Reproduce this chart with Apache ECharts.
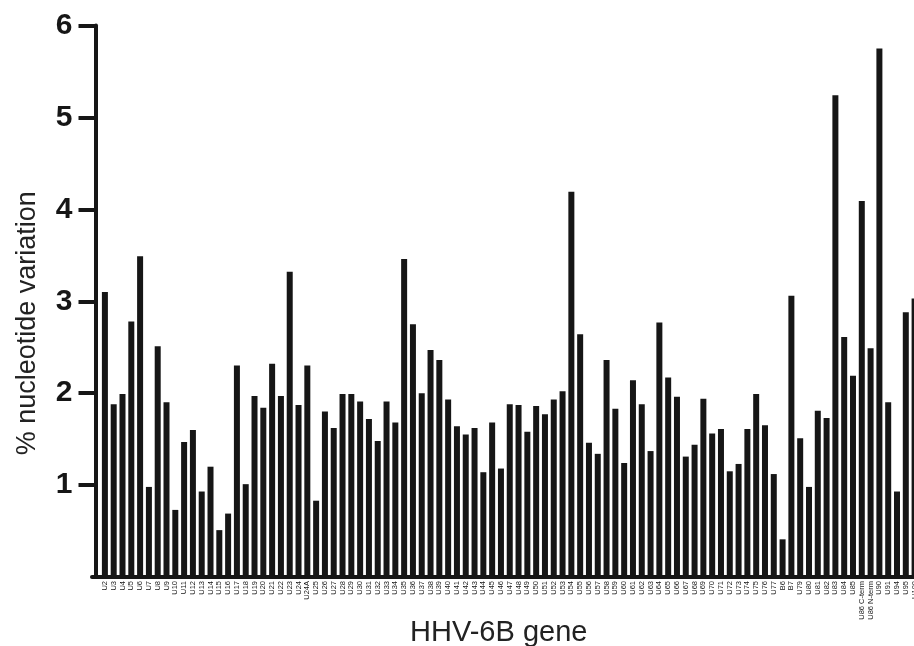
<!DOCTYPE html>
<html>
<head>
<meta charset="utf-8">
<script src="https://cdn.jsdelivr.net/npm/echarts@6/dist/echarts.min.js"></script>
<style>
  html, body { margin: 0; padding: 0; background: #fff; }
  #main { width: 914px; height: 646px; }
</style>
</head>
<body>
<div id="main"></div>
<script>
const chart = echarts.init(document.getElementById('main'));

// gene names along the x axis
const genes = [
  'U2', 'U3', 'U4', 'U5', 'U6', 'U7', 'U8', 'U9', 'U10', 'U11',
  'U12', 'U13', 'U14', 'U15', 'U16', 'U17', 'U18', 'U19', 'U20', 'U21',
  'U22', 'U23', 'U24', 'U24A', 'U25', 'U26', 'U27', 'U28', 'U29', 'U30',
  'U31', 'U32', 'U33', 'U34', 'U35', 'U36', 'U37', 'U38', 'U39', 'U40',
  'U41', 'U42', 'U43', 'U44', 'U45', 'U46', 'U47', 'U48', 'U49', 'U50',
  'U51', 'U52', 'U53', 'U54', 'U55', 'U56', 'U57', 'U58', 'U59', 'U60',
  'U61', 'U62', 'U63', 'U64', 'U65', 'U66', 'U67', 'U68', 'U69', 'U70',
  'U71', 'U72', 'U73', 'U74', 'U75', 'U76', 'U77', 'B6', 'B7', 'U79',
  'U80', 'U81', 'U82', 'U83', 'U84', 'U85', 'U86 C-term', 'U86 N-term', 'U90', 'U91',
  'U94', 'U95', 'U100'
];

// % nucleotide variation per gene
const variation = [
  3.10, 1.88, 1.99, 2.78, 3.49, 0.98, 2.51, 1.90, 0.73, 1.47,
  1.60, 0.93, 1.20, 0.51, 0.69, 2.30, 1.01, 1.97, 1.84, 2.32,
  1.97, 3.32, 1.87, 2.30, 0.83, 1.80, 1.62, 1.99, 1.99, 1.91,
  1.72, 1.48, 1.91, 1.68, 3.46, 2.75, 2.00, 2.47, 2.36, 1.93,
  1.64, 1.55, 1.62, 1.14, 1.68, 1.18, 1.88, 1.87, 1.58, 1.86,
  1.77, 1.93, 2.02, 4.19, 2.64, 1.46, 1.34, 2.36, 1.83, 1.24,
  2.14, 1.88, 1.37, 2.77, 2.17, 1.96, 1.31, 1.44, 1.94, 1.56,
  1.61, 1.15, 1.23, 1.61, 1.99, 1.65, 1.12, 0.41, 3.06, 1.51,
  0.98, 1.81, 1.73, 5.24, 2.61, 2.19, 4.09, 2.49, 5.75, 1.90,
  0.93, 2.88, 3.03
];

// y ticks that carry a label (0 has none)
const yTicks = [1, 2, 3, 4, 5, 6];

const ink = '#161616';

const options = {
  animation: false,
  grid: [
    { left: 100.5, right: -5, top: 25.5, bottom: 69, outerBoundsMode: 'none' },
    // only used to draw the baseline starting left of the y axis
    { left: 92, right: 0, bottom: 69, height: 1, outerBoundsMode: 'none' }
  ],
  xAxis: [
    {
      type: 'category',
      gridIndex: 0,
      data: genes,
      name: 'HHV-6B gene',
      nameLocation: 'middle',
      nameGap: 41,
      nameMoveOverlap: false,
      nameTextStyle: {
        fontFamily: 'Liberation Sans',
        fontSize: 29,
        color: '#222',
        padding: [0, 22, 0, 0]
      },
      axisLine: { show: false },
      axisTick: { show: false },
      axisLabel: {
        interval: 0,
        rotate: 90,
        margin: 4,
        fontSize: 7.5,
        fontFamily: 'Liberation Sans',
        color: ink
      }
    },
    {
      type: 'value',
      gridIndex: 1,
      min: 0,
      max: 1,
      axisLine: { show: true, lineStyle: { color: ink, width: 4 } },
      axisTick: { show: false },
      axisLabel: { show: false },
      splitLine: { show: false }
    }
  ],
  yAxis: [
    {
      type: 'value',
      gridIndex: 0,
      min: 0,
      max: 6,
      interval: 1,
      offset: 5,
      name: '% nucleotide variation',
      nameLocation: 'middle',
      nameGap: 54,
      nameTextStyle: {
        fontFamily: 'Liberation Sans',
        fontSize: 27,
        color: '#222',
        padding: [0, 44, 0, 0]
      },
      axisLine: { show: true, lineStyle: { color: ink, width: 4 } },
      axisTick: {
        show: true,
        length: 17,
        lineStyle: { color: ink, width: 4 },
        customValues: yTicks
      },
      axisLabel: {
        margin: 23,
        fontFamily: 'Liberation Sans',
        fontWeight: 'bold',
        fontSize: 30,
        color: ink,
        customValues: yTicks
      },
      splitLine: { show: false }
    },
    {
      type: 'value',
      gridIndex: 1,
      show: false
    }
  ],
  series: [{
    name: '% nucleotide variation',
    type: 'bar',
    xAxisIndex: 0,
    yAxisIndex: 0,
    data: variation,
    barWidth: 6,
    itemStyle: { color: ink }
  }]
};

chart.setOption(options);
</script>
</body>
</html>
